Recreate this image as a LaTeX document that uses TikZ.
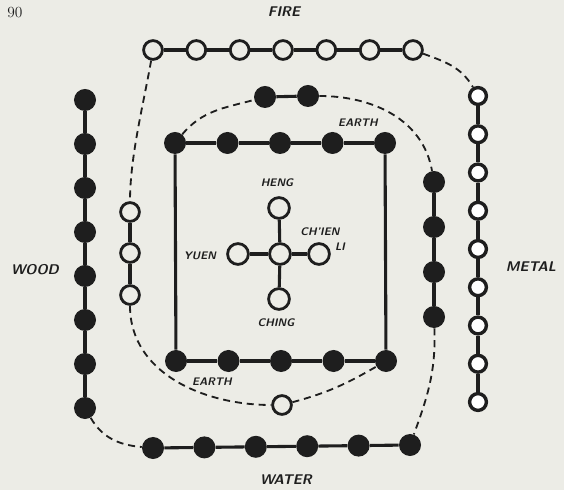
\documentclass[tikz,border=0pt]{standalone}
\usepackage{fontspec}
\usepackage{tikz}
\definecolor{paper}{RGB}{236,236,230}
\definecolor{ink}{RGB}{30,30,30}
\newcommand{\elemfont}{\sffamily\bfseries\itshape\fontsize{10}{12}\selectfont\addfontfeature{LetterSpace=6}}
\newcommand{\guafont}{\sffamily\bfseries\itshape\fontsize{7.8}{9}\selectfont\addfontfeature{LetterSpace=10}}

\begin{document}
\begin{tikzpicture}[x=0.025cm, y=0.025cm,
    dot/.style={circle, fill=ink, inner sep=0pt, minimum size=0.55cm},
    ring/.style={circle, draw=ink, fill=paper, line width=2pt, inner sep=0pt, minimum size=0.47cm},
    hubring/.style={ring, minimum size=0.52cm},
    metalring/.style={circle, draw=ink, fill=white, line width=2.4pt, inner sep=0pt, minimum size=0.42cm},
    link/.style={draw=ink, line width=2.2pt},
    trail/.style={draw=ink, line width=1.3pt, dash pattern=on 5pt off 3.5pt},
    elemlabel/.style={font=\elemfont, text=ink, inner sep=0pt},
    gualabel/.style={font=\guafont, text=ink, inner sep=0pt}
  ]
  \fill[paper] (0,0) rectangle (564,-490);
  \useasboundingbox (0,0) rectangle (564,-490);

  % Fire: seven open rings along the top
  \foreach \i in {1,...,7}
    \node[ring] (fire\i) at ({153+43.33*(\i-1)},-50) {};
  \foreach \i [evaluate=\i as \j using int(\i+1)] in {1,...,6}
    \draw[link] (fire\i) -- (fire\j);

  % Wood: eight dots on the left
  \foreach \i in {1,...,8}
    \node[dot] (wood\i) at (85,{-100-44*(\i-1)}) {};
  \foreach \i [evaluate=\i as \j using int(\i+1)] in {1,...,7}
    \draw[link] (wood\i) -- (wood\j);

  % Metal: nine open rings on the right
  \foreach \i in {1,...,9}
    \node[metalring] (metal\i) at (478,{-96-38.25*(\i-1)}) {};
  \foreach \i [evaluate=\i as \j using int(\i+1)] in {1,...,8}
    \draw[link] (metal\i) -- (metal\j);

  % Water: six dots along the bottom
  \foreach \i in {1,...,6}
    \node[dot] (water\i) at ({153+51.4*(\i-1)},{-448+0.6*(\i-1)}) {};
  \foreach \i [evaluate=\i as \j using int(\i+1)] in {1,...,5}
    \draw[link] (water\i) -- (water\j);

  % Earth: the square of ten dots
  \foreach \i in {1,...,5} {
    \node[dot] (etop\i) at ({175+52.5*(\i-1)},-143) {};
    \node[dot] (ebot\i) at ({176+52.5*(\i-1)},-361) {};
  }
  \foreach \i [evaluate=\i as \j using int(\i+1)] in {1,...,4} {
    \draw[link] (etop\i) -- (etop\j);
    \draw[link] (ebot\i) -- (ebot\j);
  }
  \draw[link] (etop1) -- (ebot1);
  \draw[link] (etop5) -- (ebot5);

  % inner pieces between the square and the outer rows
  \node[dot] (epair1) at (265,-97) {};
  \node[dot] (epair2) at (308,-96) {};
  \draw[link] (epair1) -- (epair2);

  \node[ring] (lring1) at (130,-212) {};
  \node[ring] (lring2) at (130,-253) {};
  \node[ring] (lring3) at (130,-295) {};
  \draw[link] (lring1) -- (lring2);
  \draw[link] (lring2) -- (lring3);

  \foreach \i in {1,...,4}
    \node[dot] (rdot\i) at (434,{-182-45*(\i-1)}) {};
  \foreach \i [evaluate=\i as \j using int(\i+1)] in {1,...,3}
    \draw[link] (rdot\i) -- (rdot\j);

  \node[ring] (lone) at (282,-405) {};

  % centre cross
  \node[hubring] (hub) at (280,-254) {};
  \node[hubring] (heng) at (279,-208) {};
  \node[hubring] (ching) at (279,-299) {};
  \node[hubring] (yuen) at (238,-254) {};
  \node[hubring] (li) at (319,-254) {};
  \foreach \arm in {heng,ching,yuen,li}
    \draw[link] (hub) -- (\arm);

  % dashed trails
  \draw[trail] (fire1) to[out=-100,in=90,looseness=0.8] (lring1);
  \draw[trail] (lring3) to[out=-90,in=180] (lone);
  \draw[trail] (lone) to[out=15,in=-150] (ebot5);
  \draw[trail] (etop1) to[out=50,in=195] (epair1);
  \draw[trail] (epair2) to[out=0,in=100] (rdot1);
  \draw[trail] (rdot4) to[out=-88,in=70] (water6);
  \draw[trail] (wood8) to[out=-60,in=175] (water1);
  \draw[trail] (fire7) to[out=-20,in=120] (metal1);

  % labels
  \node[inner sep=0pt, text=ink, font=\fontsize{11}{13}\selectfont] (pageno) at (15,-13) {\oldstylenums{90}};
  \node[elemlabel] (lblfire) at (284,-12) {FIRE};
  \node[elemlabel] (lblwood) at (35,-270) {WOOD};
  \node[elemlabel] (lblmetal) at (531,-267) {METAL};
  \node[elemlabel] (lblwater) at (286,-480) {WATER};
  \node[gualabel] (lblearthtop) at (358,-123) {EARTH};
  \node[gualabel] (lblearthbot) at (212,-382) {EARTH};
  \node[gualabel] (lblheng) at (277,-183) {HENG};
  \node[gualabel] (lblyuen) at (200,-256) {YUEN};
  \node[gualabel] (lblching) at (276,-323) {CHING};
  \node[gualabel] (lblchien) at (320,-232) {CH'IEN};
  \node[gualabel] (lblli) at (340,-247) {LI};
\end{tikzpicture}
\end{document}
